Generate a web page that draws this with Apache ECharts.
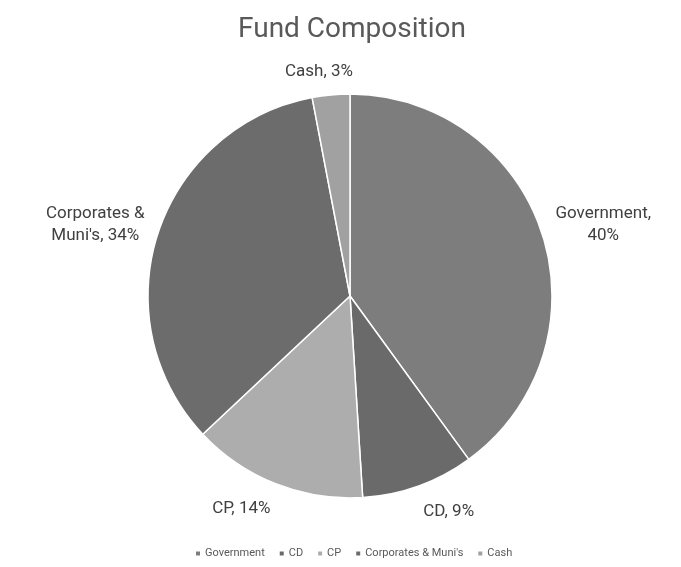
<!DOCTYPE html>
<html><head><meta charset="utf-8">
<script src="https://cdn.jsdelivr.net/npm/echarts@6/dist/echarts.min.js"></script>
<style>html,body{margin:0;padding:0;background:#fff}#c{width:681px;height:567px}</style>
</head><body><div id="c"></div>
<script>
const categories = ['Government', 'CD', 'CP', "Corporates & Muni's", 'Cash'];
const values = [40, 9, 14, 34, 3];
const labelTexts = ['Government,\n40%', 'CD, 9%', 'CP, 14%', "Corporates &\nMuni's, 34%", 'Cash, 3%'];
const colors = ['#7d7d7d', '#6a6a6a', '#adadad', '#6c6c6c', '#a1a1a1'];

const CX = 350, CY = 296, R = 202, GAP = 14, BASE_SHIFT = 2;
const LABEL_FONT = 17, LABEL_LH = 22;
const total = values.reduce((a, b) => a + b, 0);
const midAngles = [];
let acc = 0;
values.forEach(v => { midAngles.push((acc + v / 2) / total * 2 * Math.PI); acc += v; });

const mctx = document.createElement('canvas').getContext('2d');
mctx.font = LABEL_FONT + 'px Roboto';
function labelSize(i) {
  const lines = labelTexts[i].split('\n');
  return { w: Math.max(...lines.map(l => mctx.measureText(l).width)), h: lines.length * LABEL_LH };
}

const chart = echarts.init(document.getElementById('c'));
chart.setOption({
  animation: false,
  title: {
    text: 'Fund Composition', left: 347, top: 11, textAlign: 'center',
    textStyle: { fontFamily: 'Roboto', fontSize: 28, fontWeight: 'normal', color: '#595959' }
  },
  legend: {
    bottom: 3, left: 189, itemWidth: 6, itemHeight: 6, itemGap: 13,
    icon: 'rect',
    textStyle: { fontFamily: 'Roboto', fontSize: 11, color: '#595959', padding: [0, 0, 0, -1] },
    data: categories
  },
  series: [{
    type: 'pie',
    center: [CX, CY],
    radius: R,
    startAngle: 90,
    clockwise: true,
    itemStyle: { borderColor: '#fff', borderWidth: 1.5 },
    label: {
      show: true, position: 'outside', fontFamily: 'Roboto', fontSize: LABEL_FONT, color: '#404040',
      lineHeight: LABEL_LH, align: 'center', overflow: 'none',
      formatter: p => labelTexts[p.dataIndex]
    },
    labelLine: { show: false },
    labelLayout: function (params) {
      const i = params.dataIndex;
      const a = midAngles[i];
      const ux = Math.sin(a), uy = -Math.cos(a);
      const s = labelSize(i);
      const D = R + GAP;
      const sx = Math.sign(ux) * (s.w / 2) * Math.min(1, Math.abs(ux) / 0.3);
      const sy = uy * s.h / 2;
      return {
        x: CX + D * ux + sx,
        y: CY + D * uy + sy + BASE_SHIFT,
        align: 'center',
        verticalAlign: 'middle'
      };
    },
    emphasis: { disabled: true },
    data: categories.map((c, i) => ({ name: c, value: values[i], itemStyle: { color: colors[i] } }))
  }]
});
</script></body></html>
